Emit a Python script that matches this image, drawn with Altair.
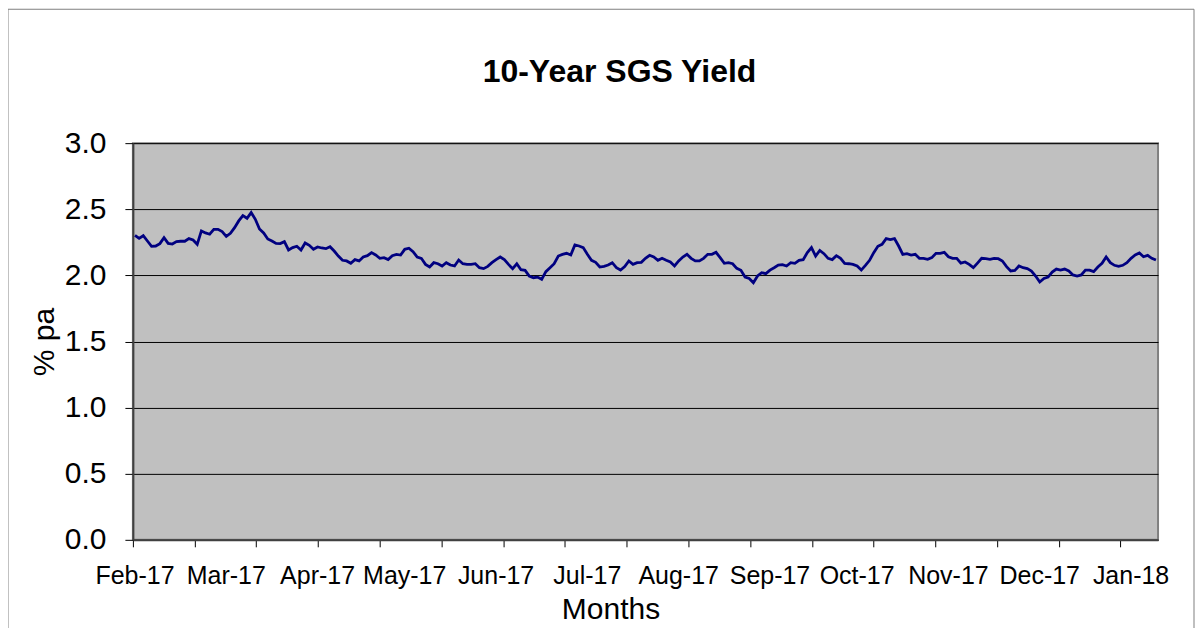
import altair as alt
import pandas as pd

FONT = "Liberation Sans"

# Daily 10-year SGS yield (% pa), Feb-17 .. Jan-18
yield_pct = [
    2.303, 2.280, 2.300, 2.260, 2.220, 2.222, 2.240, 2.285, 2.242, 2.237,
    2.255, 2.258, 2.258, 2.278, 2.268, 2.235, 2.336, 2.321, 2.311, 2.348,
    2.348, 2.331, 2.295, 2.318, 2.361, 2.412, 2.452, 2.432, 2.475, 2.424,
    2.351, 2.321, 2.275, 2.260, 2.242, 2.240, 2.255, 2.192, 2.210, 2.220,
    2.192, 2.245, 2.227, 2.197, 2.215, 2.207, 2.202, 2.217, 2.184,
    2.146, 2.114, 2.109, 2.091, 2.119, 2.109, 2.139, 2.149, 2.172, 2.154,
    2.129, 2.134, 2.119, 2.149, 2.159, 2.154, 2.197, 2.205, 2.179, 2.139,
    2.129, 2.083, 2.063, 2.096, 2.088, 2.071, 2.096, 2.078, 2.071, 2.116,
    2.088, 2.083, 2.083, 2.088, 2.058, 2.051, 2.068, 2.096, 2.119, 2.139,
    2.119, 2.083, 2.051, 2.088, 2.043, 2.038, 1.995, 1.982, 1.987,
    1.970, 2.028, 2.058, 2.088, 2.146, 2.159, 2.167, 2.154, 2.230, 2.222,
    2.210, 2.159, 2.114, 2.099, 2.063, 2.068, 2.078, 2.096, 2.058, 2.040,
    2.066, 2.109, 2.083, 2.096, 2.099, 2.129, 2.152, 2.139, 2.114, 2.129,
    2.114, 2.101, 2.071, 2.109, 2.139, 2.159, 2.129, 2.109, 2.109, 2.129,
    2.159, 2.159, 2.174, 2.134, 2.091, 2.096, 2.088, 2.053, 2.038, 1.987,
    1.977, 1.945, 1.995, 2.020, 2.013, 2.040, 2.058, 2.078, 2.081, 2.071,
    2.096, 2.091, 2.114, 2.119, 2.172, 2.210, 2.146, 2.189, 2.164, 2.129,
    2.119, 2.149, 2.129, 2.091, 2.088, 2.083, 2.071, 2.040, 2.076, 2.114,
    2.172, 2.220, 2.235, 2.278, 2.270, 2.278, 2.222, 2.159, 2.164, 2.154,
    2.159, 2.129, 2.129, 2.121, 2.134, 2.167, 2.167, 2.174, 2.141, 2.129,
    2.129, 2.093, 2.101, 2.083, 2.058, 2.093, 2.129, 2.126, 2.121, 2.129,
    2.126, 2.109, 2.066, 2.033, 2.038, 2.071, 2.058, 2.051, 2.033, 1.995,
    1.950, 1.977, 1.987, 2.025, 2.048, 2.040, 2.048, 2.033, 2.003, 1.995,
    2.003, 2.040, 2.040, 2.028, 2.063, 2.091, 2.139, 2.096, 2.076, 2.068,
    2.076, 2.096, 2.129, 2.154, 2.169, 2.141, 2.151, 2.129, 2.116,
]

month_labels = ["Feb-17", "Mar-17", "Apr-17", "May-17", "Jun-17", "Jul-17",
                "Aug-17", "Sep-17", "Oct-17", "Nov-17", "Dec-17", "Jan-18"]
# observation index under which each month label sits
month_label_obs = [0, 22, 44, 65, 87, 109, 131, 153, 174, 196, 218, 240]
# observation positions of the x-axis tick marks
x_tick_obs = [-0.5, 14.4, 29.2, 44.1, 59.0, 73.9, 88.7, 103.6, 118.5,
              133.3, 148.2, 163.1, 178.0, 192.8, 207.7, 222.6, 237.4]
y_ticks = [0.0, 0.5, 1.0, 1.5, 2.0, 2.5, 3.0]

W, H = 1026, 397

df = pd.DataFrame({"obs": list(range(len(yield_pct))), "yield": yield_pct})
lab = pd.DataFrame({"obs": month_label_obs, "label": month_labels})
one = pd.DataFrame({"k": [0]})

xscale = alt.Scale(domain=[-0.5, len(yield_pct) - 0.5], nice=False, zero=False)
yscale = alt.Scale(domain=[0, 3], nice=False, zero=True)

xaxis = alt.Axis(
    values=x_tick_obs, labels=False, grid=False,
    tickSize=7, tickColor="#000000", tickWidth=1,
    domainColor="#404040", domainWidth=2,
    title="Months", titleFont=FONT, titleFontSize=30, titleFontWeight="normal",
    titleColor="#000000", titleX=478, titleY=70, titleBaseline="middle",
    titleAlign="center",
)
yaxis = alt.Axis(
    values=y_ticks, format=".1f", grid=True, gridColor="#000000", gridWidth=1,
    tickSize=8, tickColor="#000000", tickWidth=1,
    domainColor="#404040", domainWidth=2,
    labelFont=FONT, labelFontSize=30, labelColor="#000000", labelPadding=19,
    title="% pa", titleFont=FONT, titleFontSize=30, titleFontWeight="normal",
    titleColor="#000000", titleX=-88, titleY=H / 2, titleAngle=-90,
    titleBaseline="middle", titleAlign="center",
)

x_enc = alt.X("obs:Q", scale=xscale, axis=xaxis)

frame = alt.Chart(one).mark_rect(
    fill="#ffffff", fillOpacity=0, stroke="#808080", strokeWidth=1
).encode(
    x=alt.value(-125), x2=alt.value(1062), y=alt.value(-134), y2=alt.value(H + 200)
)

line = alt.Chart(df).mark_line(color="#000080", strokeWidth=2.8).encode(
    x=x_enc,
    y=alt.Y("yield:Q", scale=yscale, axis=yaxis),
)

xlabels = alt.Chart(lab).mark_text(
    font=FONT, fontSize=25, baseline="alphabetic", align="center", color="#000000"
).encode(
    x=x_enc,
    y=alt.value(H + 44),
    text="label:N",
)

title = alt.Chart(one).mark_text(
    text="10-Year SGS Yield", font=FONT, fontSize=32, fontWeight="bold",
    align="center", baseline="middle", color="#000000"
).encode(x=alt.value(620 - 133), y=alt.value(72 - 143))

chart = alt.layer(frame, line, xlabels, title).properties(
    width=W, height=H,
    autosize=alt.AutoSizeParams(type="none"),
    padding={"left": 125, "top": 135, "right": 38, "bottom": 88},
    background="#ffffff",
).configure_view(
    fill="#C0C0C0", stroke="#808080", strokeWidth=2
)

chart.save("out.html", embed_options={"renderer": "svg", "actions": False})
